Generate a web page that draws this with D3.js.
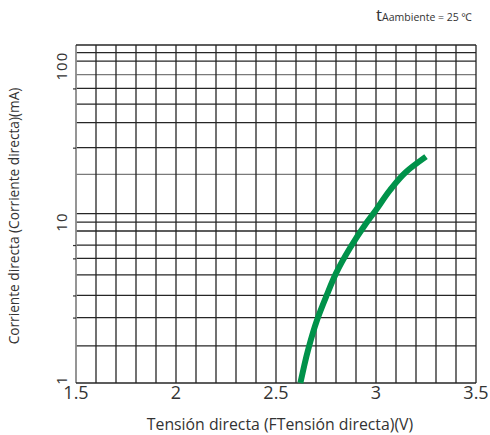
<!DOCTYPE html>
<html>
<head>
<meta charset="utf-8">
<script src="https://cdn.jsdelivr.net/npm/d3@7/dist/d3.min.js"></script>
<style>
  html, body { margin: 0; padding: 0; background: #fff; }
  svg { display: block; font-family: "Open Sans", "Noto Sans", sans-serif; }
</style>
</head>
<body>
<svg id="chart" width="490" height="435"></svg>
<script>
// Forward voltage (V) vs forward current (mA) at 25 °C
const voltage = [2.622, 2.66, 2.707, 2.753, 2.80, 2.87, 2.95, 3.00, 3.07, 3.15, 3.25];
const current = [1.0, 1.6, 2.5, 3.5, 4.8, 6.9, 9.8, 11.9, 15.8, 20.5, 25.5];

// Axis ticks and grid
const xTicks = [1.5, 2, 2.5, 3, 3.5];
const xGrid = d3.range(0, 21).map(i => +(1.5 + i * 0.1).toFixed(2));
const yTicks = [1, 10, 100];
const yGrid = [1.7, 2.55, 3.5, 4.7, 5.95, 7.2, 8.8, 10, 11.3, 19.8, 29, 41.5, 54, 67.7, 82.5, 100, 113];
const yGridGrey = [82.5, 19.8];
const yMarks = [2.55, 3.5, 5.95, 7.2, 29, 67.7];

const svg = d3.select("#chart");
const plotLeft = 76, plotRight = 476, plotTop = 45, plotBottom = 383;

const x = d3.scaleLinear().domain([1.5, 3.5]).range([plotLeft, plotRight]);
const y = d3.scaleLog().domain([1, 126]).range([plotBottom, plotTop]);

const grid = svg.append("g");

// horizontal grid lines
grid.selectAll("line.h").data(yGrid).join("line")
  .attr("class", "h")
  .attr("x1", plotLeft).attr("x2", plotRight)
  .attr("y1", d => y(d)).attr("y2", d => y(d))
  .attr("stroke", d => yGridGrey.includes(d) ? "#7a7a7a" : "#262626")
  .attr("stroke-width", 1.3);

// short marks left of the frame
svg.append("g")
  .attr("transform", `translate(${plotLeft},0)`)
  .call(d3.axisLeft(y).tickValues(yMarks).tickSize(3).tickFormat(""))
  .call(g => g.select(".domain").remove())
  .call(g => g.selectAll("line").attr("stroke", "#333").attr("stroke-width", 1.2));

// vertical grid lines
grid.selectAll("line.v").data(xGrid).join("line")
  .attr("class", "v")
  .attr("x1", d => x(d)).attr("x2", d => x(d))
  .attr("y1", plotTop).attr("y2", plotBottom)
  .attr("stroke", (d, i) => i === 0 ? "#8a8a8a" : "#262626")
  .attr("stroke-width", (d, i) => i === 0 ? 1.8 : 1.3);

// frame top and bottom
grid.append("line").attr("x1", plotLeft).attr("x2", plotRight).attr("y1", plotTop).attr("y2", plotTop)
  .attr("stroke", "#262626").attr("stroke-width", 1.3);
grid.append("line").attr("x1", plotLeft).attr("x2", plotRight).attr("y1", plotBottom).attr("y2", plotBottom)
  .attr("stroke", "#262626").attr("stroke-width", 1.3);

// x tick labels
svg.append("g").selectAll("text").data(xTicks).join("text")
  .attr("x", d => x(d)).attr("y", 399)
  .attr("text-anchor", "middle")
  .attr("font-size", 18).attr("fill", "#333")
  .text(d => d);

// y tick labels (rotated)
svg.append("g").selectAll("text").data(yTicks).join("text")
  .attr("transform", d => `translate(67,${y(d) + (d === 100 ? 5 : (d === 1 ? -3 : 0))}) rotate(-90)`)
  .attr("text-anchor", "middle")
  .attr("font-size", 15).attr("fill", "#333")
  .attr("letter-spacing", 1)
  .text(d => d);

// axis titles
svg.append("text")
  .attr("x", 280).attr("y", 430)
  .attr("text-anchor", "middle")
  .attr("font-size", 15.8).attr("fill", "#333")
  .text("Tensión directa (FTensión directa)(V)");

svg.append("text")
  .attr("transform", "translate(19,216) rotate(-90)")
  .attr("text-anchor", "middle")
  .attr("font-size", 13.7).attr("fill", "#333")
  .text("Corriente directa (Corriente directa)(mA)");

// ambient temperature note
const note = svg.append("text")
  .attr("x", 472).attr("y", 21)
  .attr("text-anchor", "end")
  .attr("fill", "#333");
note.append("tspan").attr("font-size", 17).text("t");
note.append("tspan").attr("font-size", 10.5).text("Aambiente = 25 ℃");

// characteristic curve
const pts = voltage.map((v, i) => [v, current[i]]);
svg.append("path")
  .datum(pts)
  .attr("fill", "none")
  .attr("stroke", "#00924a")
  .attr("stroke-width", 6)
  .attr("d", d3.line().x(d => x(d[0])).y(d => y(d[1])).curve(d3.curveMonotoneY));
</script>
</body>
</html>
